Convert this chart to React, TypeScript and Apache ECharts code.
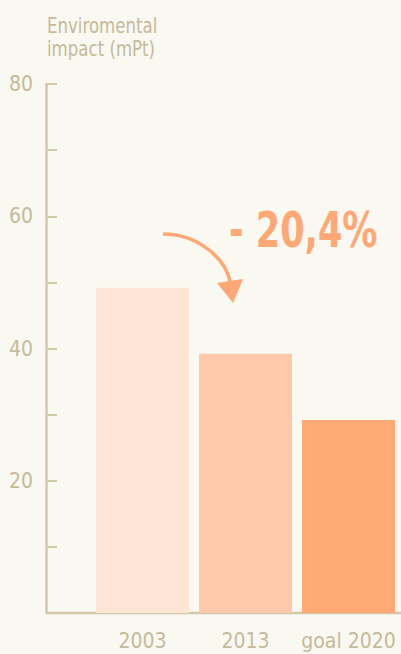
import React, { useEffect, useRef } from "react";
import * as echarts from "echarts";

const categories = ["2003", "2013", "goal 2020"];
const values = [49.2, 39.2, 29.2];
const barColors = ["#fee5d6", "#fec8ab", "#ffa977"];
const yTickLabels = ["20", "40", "60", "80"];
const titleText = "Enviromental\nimpact (mPt)";
const changeLabel = "- 20,4%";

const FONT = "'DejaVu Sans Condensed', 'Roboto', sans-serif";
const TEXT = "#c5ba9b";
const AXIS = "#d2c8aa";
const ACCENT = "#ffa876";

export default function App() {
  const ref = useRef<HTMLDivElement>(null);
  useEffect(() => {
    if (!ref.current) return;
    const chart = echarts.init(ref.current, undefined, { renderer: "svg" });
    const gridLeft = 91;
    const gridBottom = 41;
    const H = 654;
    const W = 401;
    chart.setOption({
      animation: false,
      backgroundColor: "#f9f8f1",
      grid: { left: gridLeft, right: 1, top: 84, bottom: gridBottom, containLabel: false, outerBoundsMode: "none" },
      xAxis: {
        type: "category",
        data: categories,
        axisLine: { show: false },
        axisTick: { show: false },
        axisLabel: { interval: 0, hideOverlap: false, fontFamily: FONT, fontSize: 21, color: TEXT, margin: 17 },
      },
      yAxis: {
        type: "value",
        min: 0,
        max: 80,
        interval: 10,
        offset: 45,
        splitLine: { show: false },
        axisLine: { show: true, lineStyle: { color: AXIS, width: 2.5 } },
        axisTick: { show: true, inside: true, length: 11, lineStyle: { color: AXIS, width: 2 } },
        axisLabel: {
          fontFamily: FONT,
          fontSize: 21,
          color: TEXT,
          margin: 13,
          formatter: (v: number) => (yTickLabels.includes(String(v)) ? String(v) : ""),
        },
      },
      series: [
        {
          type: "bar",
          data: values.map((v, i) => ({ value: v, itemStyle: { color: barColors[i] } })),
          barWidth: 93,
        },
      ],
      graphic: [
        {
          type: "line",
          shape: { x1: gridLeft - 45, y1: H - gridBottom, x2: W, y2: H - gridBottom },
          style: { stroke: AXIS, lineWidth: 2.5 },
        },
        {
          type: "text",
          x: 47,
          y: 14,
          scaleX: 0.84,
          style: {
            text: titleText,
            fontFamily: FONT,
            fontSize: 22,
            lineHeight: 23,
            fill: TEXT,
            verticalAlign: "top",
          },
        },
        {
          type: "bezierCurve",
          shape: { x1: 163, y1: 234, cpx1: 200, cpy1: 234, cpx2: 229, cpy2: 262, x2: 230, y2: 284 },
          style: { stroke: ACCENT, lineWidth: 3.5, fill: null },
        },
        {
          type: "polygon",
          shape: { points: [[217, 283], [243, 279], [233, 303]] },
          style: { fill: ACCENT },
        },
        {
          type: "text",
          x: 229,
          y: 205,
          scaleX: 0.78,
          style: {
            text: changeLabel,
            fontFamily: FONT,
            fontSize: 50,
            fontWeight: "bold",
            fill: ACCENT,
            verticalAlign: "top",
          },
        },
      ],
    });
    return () => chart.dispose();
  }, []);
  return <div ref={ref} style={{ position: "absolute", left: 0, top: 0, width: 401, height: 654 }} />;
}
